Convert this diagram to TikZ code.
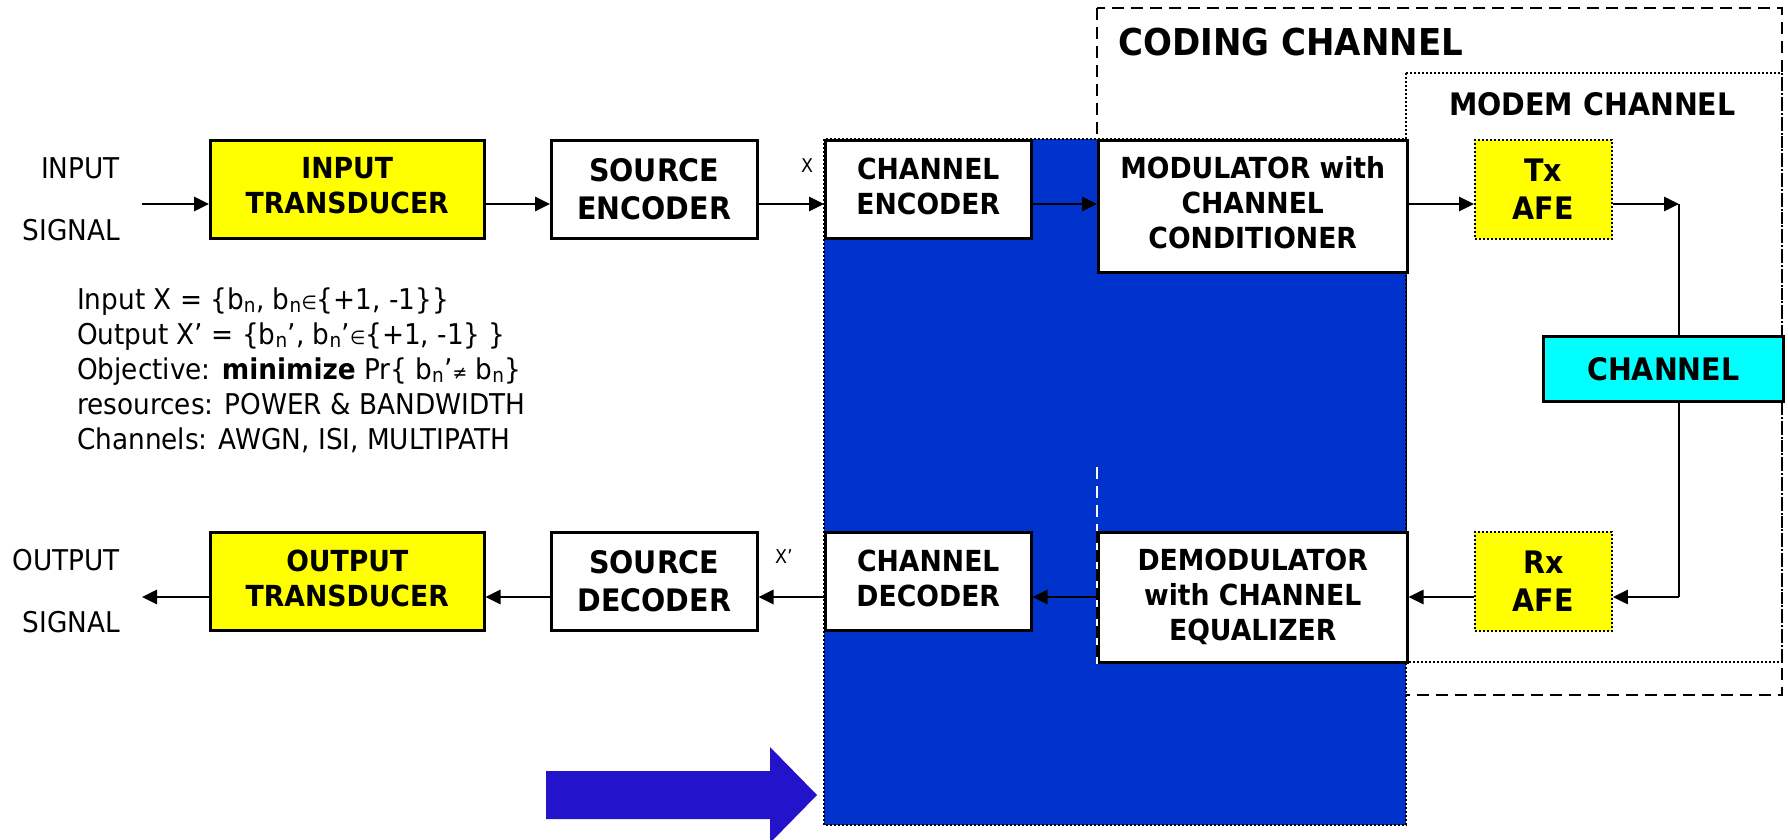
\documentclass[tikz,border=0pt]{standalone}
\usepackage{fontspec}
\setmainfont[FakeStretch=0.92]{DejaVu Sans}
\usetikzlibrary{arrows.meta}
\definecolor{regblue}{HTML}{0033CC}
\definecolor{arrblue}{HTML}{2314CC}
\definecolor{afeyellow}{HTML}{FFFF00}
\definecolor{chcyan}{HTML}{00FFFF}
\newcommand\fblk{\fontsize{29}{35}\selectfont\bfseries}
\newcommand\fbig{\fontsize{31}{38}\selectfont\bfseries}
\newcommand\freg{\fontsize{28.6}{35}\selectfont}
\newcommand\fsml{\fontsize{19}{22}\selectfont}
\newcommand\smsym[1]{{\fontsize{19}{19}\selectfont #1}}
\newcommand\lift{\rule[-7pt]{0pt}{7pt}}
\begin{document}
\begin{tikzpicture}[x=1pt,y=-1pt,
  blk/.style={draw=black, line width=2.5pt, fill=white, align=center, inner sep=0pt, anchor=north west},
  afe/.style={draw=black, line width=1.8pt, dash pattern=on 2pt off 2pt, fill=afeyellow, align=center, inner sep=0pt, anchor=north west},
  conn/.style={line width=2.7pt},
  arr/.style={conn, -{Triangle[length=15pt,width=14pt]}},
  lbl/.style={inner sep=0pt, font=\freg},
]
\useasboundingbox (0,0) rectangle (1788,839);
% enclosures
\draw[line width=2.5pt, dash pattern=on 12pt off 7pt] (1097,8) rectangle (1782,695);
\draw[line width=1.8pt, dash pattern=on 2pt off 2pt] (1406,73) rectangle (1782,662);
\draw[line width=2pt, dash pattern=on 2pt off 2pt, fill=regblue] (824,139) rectangle (1406,825);
\draw[white, line width=2.5pt, dash pattern=on 12pt off 7pt] (1097,467) -- (1097,531);
\node[inner sep=0pt, anchor=base west, font=\fontsize{37}{40}\selectfont\bfseries] (cct) at (1118,55) {CODING CHANNEL};
\node[inner sep=0pt, anchor=base west, font=\fbig] (mct) at (1449,115) {MODEM CHANNEL};
% top row
\node[blk, fill=afeyellow, minimum width=274pt, minimum height=98pt, font=\fblk] (it) at (209,139) {INPUT\\TRANSDUCER\lift};
\node[blk, minimum width=206pt, minimum height=98pt, font=\fbig] (se) at (550,139) {SOURCE\\ENCODER};
\node[blk, minimum width=206pt, minimum height=98pt, font=\fblk] (ce) at (824,139) {CHANNEL\\ENCODER\lift};
\node[blk, minimum width=309pt, minimum height=132pt, font=\fblk] (mod) at (1097,139) {MODULATOR with\\CHANNEL\\CONDITIONER\lift};
\node[afe, minimum width=137pt, minimum height=99pt, font=\fbig] (tx) at (1474,139) {Tx\\AFE};
\node[blk, fill=chcyan, minimum width=240pt, minimum height=65pt, font=\fbig] (ch) at (1542,335) {CHANNEL};
% bottom row
\node[afe, minimum width=137pt, minimum height=99pt, font=\fbig] (rx) at (1474,531) {Rx\\AFE};
\node[blk, minimum width=309pt, minimum height=130pt, font=\fblk] (dem) at (1097,531) {DEMODULATOR\\with CHANNEL\\EQUALIZER};
\draw[white, line width=2.6pt] (dem.north west) -- (dem.south west);
\draw[line width=2.5pt, dash pattern=on 12pt off 7pt] (dem.north west) -- (dem.south west);
\node[blk, minimum width=206pt, minimum height=98pt, font=\fblk] (cd) at (824,531) {CHANNEL\\DECODER\lift};
\node[blk, minimum width=206pt, minimum height=98pt, font=\fbig] (sd) at (550,531) {SOURCE\\DECODER};
\node[blk, fill=afeyellow, minimum width=274pt, minimum height=98pt, font=\fblk] (ot) at (209,531) {OUTPUT\\TRANSDUCER\lift};
% side labels
\node[lbl, anchor=base east] (in1) at (120,178) {INPUT};
\node[lbl, anchor=base east] (in2) at (120,240) {SIGNAL};
\node[lbl, anchor=base east] (out1) at (120,570) {OUTPUT};
\node[lbl, anchor=base east] (out2) at (120,632) {SIGNAL};
\node[inner sep=0pt, anchor=base west, font=\fsml] (xl) at (801,172) {X};
\node[inner sep=0pt, anchor=base west, font=\fsml] (xpl) at (775,563) {X’};
% text block
\node[lbl, anchor=base west] (t1) at (77,309) {Input X = \{b\textsubscript{n}, b\textsubscript{n}\smsym{∈}\{+1, -1\}\}};
\node[lbl, anchor=base west] (t2) at (77,344) {Output X’ = \{b\textsubscript{n}’, b\textsubscript{n}’\smsym{∈}\{+1, -1\} \}};
\node[lbl, anchor=base west] (t3) at (77,379) {Objective: \textbf{minimize} Pr\{ b\textsubscript{n}’\smsym{≠} b\textsubscript{n}\}};
\node[lbl, anchor=base west] (t4) at (77,414) {resources: POWER \& BANDWIDTH};
\node[lbl, anchor=base west] (t5) at (77,449) {Channels: AWGN, ISI, MULTIPATH};
% connectors
\coordinate (rowT) at (0,204);
\coordinate (rowB) at (0,597);
\coordinate (inS) at (142,204);
\coordinate (outS) at (142,597);
\coordinate (cor1) at (1679,204);
\coordinate (cor2) at (1679,597);
\draw[arr] (inS) -- (it.west |- rowT);
\draw[arr] (it.east |- rowT) -- (se.west |- rowT);
\draw[arr] (se.east |- rowT) -- (ce.west |- rowT);
\draw[arr] (ce.east |- rowT) -- (mod.west |- rowT);
\draw[arr] (mod.east |- rowT) -- (tx.west |- rowT);
\draw[arr] (tx.east |- rowT) -- (cor1);
\draw[conn] (cor1) -- (ch.north -| cor1);
\draw[conn] (ch.south -| cor1) -- (cor2);
\draw[arr] (cor2) -- (rx.east |- rowB);
\draw[arr] (rx.west |- rowB) -- (dem.east |- rowB);
\draw[arr] (dem.west |- rowB) -- (cd.east |- rowB);
\draw[arr] (cd.west |- rowB) -- (sd.east |- rowB);
\draw[arr] (sd.west |- rowB) -- (ot.east |- rowB);
\draw[arr] (ot.west |- rowB) -- (outS);
% big blue arrow
\fill[arrblue] (546,771) -- (770,771) -- (770,747) -- (817,795) -- (770,843) -- (770,819) -- (546,819) -- cycle;
\end{tikzpicture}
\end{document}
